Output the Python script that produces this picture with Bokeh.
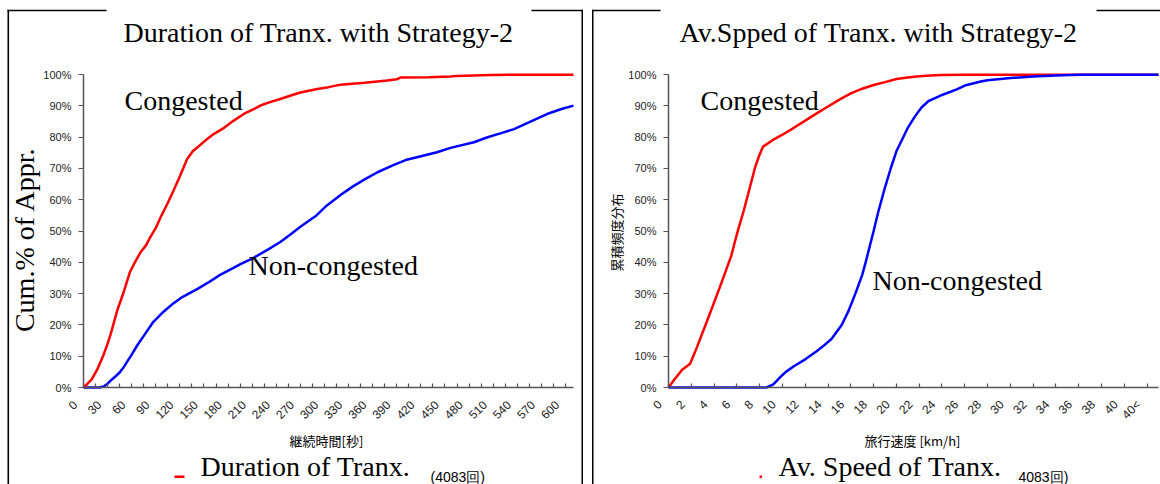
import math
from bokeh.plotting import figure
from bokeh.models import Range1d, FixedTicker, Label, BoxAnnotation, LinearAxis
from bokeh.layouts import row
from bokeh.embed import file_html
from bokeh.resources import INLINE

# ---------------- data ----------------
# Left chart: duration of transaction [s] vs cumulative %
dur_cong_x = [0, 5, 10, 17, 25, 30, 34, 42, 50, 58, 65, 71, 78, 83, 90, 96, 104, 112, 120, 129,
              136, 142, 152, 162, 175, 187, 200, 212, 222, 233, 245, 260, 270, 291, 305, 320,
              350, 378, 390, 395, 430, 457, 465, 507, 560, 610]
dur_cong_y = [0, 1.2, 2.5, 5.7, 10.5, 14, 17.2, 24.6, 30.5, 37, 40.5, 43.2, 45.5, 48, 51, 54.4,
              58.5, 62.9, 67.5, 73, 75.5, 76.8, 79, 81, 83, 85.3, 87.5, 89, 90.3, 91.3, 92.2,
              93.5, 94.3, 95.4, 96, 96.8, 97.4, 98.1, 98.5, 99.1, 99.2, 99.4, 99.6, 99.9, 100, 100]
dur_non_x = [0, 20, 25, 30, 35, 40, 45, 50, 55, 60, 67, 75, 87, 100, 110, 123, 142, 155, 170,
             185, 196, 210, 229, 245, 258, 270, 290, 303, 320, 335, 350, 366, 385, 401, 420,
             440, 457, 486, 503, 520, 536, 555, 577, 595, 610]
dur_non_y = [0, 0, 0.3, 1.2, 2.5, 3.6, 4.8, 6.5, 8.5, 10.5, 13.5, 16.5, 21, 24.3, 26.5, 28.9,
             31.5, 33.5, 36, 38, 39.5, 41.2, 44, 46.5, 49, 51.4, 55, 58.2, 61.5, 64.2, 66.5,
             68.8, 71, 72.7, 73.9, 75.2, 76.6, 78.4, 80, 81.3, 82.6, 84.8, 87.4, 89, 90.1]

# Right chart: average speed [km/h] vs cumulative %
spd_cong_x = [0, 0.5, 1.2, 1.9, 2.5, 3.4, 4.5, 5.5, 6, 6.6, 7, 7.6, 8, 8.3, 9.2, 10, 11, 12,
              13, 14, 15, 16, 17, 18, 19, 20, 21, 22, 23, 24, 26, 43]
spd_cong_y = [0, 2.5, 5.7, 7.6, 12.9, 21.4, 32, 42, 49, 56.5, 62, 70.4, 74.5, 77, 79.2, 80.8,
              83, 85.3, 87.6, 89.8, 92, 94, 95.5, 96.7, 97.6, 98.6, 99.1, 99.5, 99.7, 99.9, 100, 100]
spd_non_x = [0, 8.6, 9.2, 10, 10.3, 11, 12, 13, 13.5, 14.3, 15.2, 15.8, 16.4, 17, 17.3, 18,
             18.4, 19, 19.5, 20, 20.6, 21, 21.6, 22.2, 22.8, 23.4, 24, 25.3, 26, 27.4, 28, 30,
             32, 34, 36, 43]
spd_non_y = [0, 0, 1, 4, 5, 6.8, 9, 11.6, 13, 15.5, 20, 24.5, 30, 36, 40, 50, 56, 64, 70,
             75.5, 80, 83, 86.5, 89.5, 91.5, 92.5, 93.5, 95.3, 96.5, 97.8, 98.2, 98.9, 99.4,
             99.7, 100, 100]

pct_ticks = list(range(0, 101, 10))
pct_labels = [f"{t}%" for t in pct_ticks]
dur_ticks = list(range(0, 601, 30))
dur_minor = list(range(15, 601, 30))
dur_labels = [str(t) for t in dur_ticks]
spd_ticks = list(range(0, 43, 2))
spd_labels = [str(t) for t in range(0, 41, 2)] + ["40<"]

titles = ["Duration of Tranx. with Strategy-2", "Av.Spped of Tranx. with Strategy-2"]
series_names = ["Congested", "Non-congested"]
y_titles = ["Cum.% of Appr.", "累積頻度分布"]
x_titles = ["継続時間[秒]", "旅行速度 [km/h]"]
bottom_titles = ["Duration of Tranx.", "Av. Speed of Tranx."]
counts = ["(4083回)", "4083回)"]

RED = "#ff0000"
BLUE = "#0000ff"
SERIF = "Liberation Serif"
SANS = "Liberation Sans"
CJK = "Noto Sans CJK JP"
AXIS_COLOR = "#555555"
H = 484
PAGE_TOP = 0
PAGE_Y0 = 387          # page y of the 0 % line
KY = 316 / 101         # px per percent
LABEL_SHIFT_PX = 8.5   # rotated tick labels sit a little left of their ticks


def make_fig(width, page_left, page_x0, kx):
    # the plot frame covers the whole canvas; axes are pinned at 0
    x0 = (page_left - page_x0) / kx
    x1 = (page_left + width - page_x0) / kx
    y0 = (PAGE_Y0 - (PAGE_TOP + H)) / KY
    y1 = (PAGE_Y0 - PAGE_TOP) / KY
    p = figure(width=width, height=H, output_backend="svg", toolbar_location=None,
               x_range=Range1d(x0, x1), y_range=Range1d(y0, y1),
               min_border=0, min_border_left=0, min_border_right=0,
               min_border_top=0, min_border_bottom=0)
    d = LABEL_SHIFT_PX / kx
    p.extra_x_ranges = {"lab": Range1d(x0 + d, x1 + d)}
    p.outline_line_color = None
    p.grid.visible = False
    p.background_fill_color = "white"
    p.border_fill_color = "white"
    geom = dict(fx0=page_x0, kx=kx)
    return p, geom


def to_data(g, px, py):
    return (px - g["fx0"]) / g["kx"], (PAGE_Y0 - py) / KY


def style_axes(p, xticks, xminor, xlabels, xmax):
    ya = p.yaxis[0]
    ya.fixed_location = 0
    ya.bounds = (0, 100)
    ya.ticker = FixedTicker(ticks=pct_ticks)
    ya.major_label_overrides = dict(zip(pct_ticks, pct_labels))
    ya.major_tick_out = 5
    ya.major_tick_in = 0
    ya.minor_tick_line_color = None
    ya.major_label_standoff = 7
    ya.axis_line_color = AXIS_COLOR
    ya.axis_line_width = 1.5
    ya.major_tick_line_color = AXIS_COLOR
    ya.major_tick_line_width = 1.2
    ya.major_label_text_font = SANS
    ya.major_label_text_font_size = "11px"
    ya.major_label_text_color = "#222222"

    # axis line + tick marks
    xa = p.xaxis[0]
    xa.fixed_location = 0
    xa.bounds = (0, xmax)
    xa.ticker = FixedTicker(ticks=xticks, minor_ticks=xminor)
    xa.major_label_overrides = {t: "" for t in xticks}
    xa.major_tick_out = 0
    xa.major_tick_in = 4
    xa.minor_tick_in = 4
    xa.minor_tick_out = 0
    xa.axis_line_color = AXIS_COLOR
    xa.axis_line_width = 1.5
    xa.major_tick_line_color = AXIS_COLOR
    xa.major_tick_line_width = 1.2
    xa.minor_tick_line_color = AXIS_COLOR
    xa.minor_tick_line_width = 1.2

    # rotated tick labels (same ticks, drawn slightly to the left)
    la = LinearAxis(x_range_name="lab", fixed_location=0,
                    ticker=FixedTicker(ticks=xticks, minor_ticks=[]),
                    major_label_overrides=dict(zip(xticks, xlabels)),
                    axis_line_color=None, major_tick_line_color=None,
                    minor_tick_line_color=None, major_tick_in=0, major_tick_out=0,
                    major_label_orientation=math.pi / 4, major_label_standoff=15,
                    major_label_text_font=SANS, major_label_text_font_size="12px",
                    major_label_text_color="#222222")
    p.add_layout(la, "below")


def add_text(p, g, px, py, text, size, font=SERIF, align="left", angle=0.0, color="black"):
    # (px, py) is the visual centre line of the text in page pixels
    x, y = to_data(g, px, py)
    p.add_layout(Label(x=x, y=y, text=text, text_font=font, text_font_size=f"{size}px",
                       text_align=align, text_baseline="middle", angle=angle,
                       text_color=color))


def add_rect(p, g, px0, py0, px1, py1, color="black"):
    x0, y0 = to_data(g, px0, py0)
    x1, y1 = to_data(g, px1, py1)
    p.add_layout(BoxAnnotation(left=x0, right=x1, top=y0, bottom=y1, fill_color=color,
                               fill_alpha=1.0, line_color=None))


# ---------------- left panel ----------------
KXL = 490 / 610
pL, gL = make_fig(588, 0, 83, KXL)
style_axes(pL, dur_ticks, dur_minor, dur_labels, 610)
pL.line(dur_non_x, dur_non_y, line_color=BLUE, line_width=2.5)
pL.line(dur_cong_x, dur_cong_y, line_color=RED, line_width=2.5)

add_text(pL, gL, 318, 31.5, titles[0], 28, align="center")
add_text(pL, gL, 124, 100, series_names[0], 28)
add_text(pL, gL, 248, 265, series_names[1], 28)
add_text(pL, gL, 24, 239, y_titles[0], 28, align="center", angle=math.pi / 2)
add_text(pL, gL, 326, 440, x_titles[0], 13, font=CJK, align="center")
add_rect(pL, gL, 174, 475, 184, 477.5, color=RED)
add_text(pL, gL, 200, 466, bottom_titles[0], 28)
add_text(pL, gL, 430, 476.5, counts[0], 14, font=SANS)
# panel frame
add_rect(pL, gL, 7, 9.3, 8.6, 484)
add_rect(pL, gL, 7, 9.3, 106, 10.8)
add_rect(pL, gL, 531, 9.3, 582.5, 10.8)
add_rect(pL, gL, 581, 9.3, 582.5, 484)

# ---------------- right panel ----------------
KXR = 490 / 43
pR, gR = make_fig(572, 588, 668, KXR)
style_axes(pR, spd_ticks, [], spd_labels, 43)
pR.line(spd_cong_x, spd_cong_y, line_color=RED, line_width=2.5)
pR.line(spd_non_x, spd_non_y, line_color=BLUE, line_width=2.5)

add_text(pR, gR, 878, 31.5, titles[1], 28, align="center")
add_text(pR, gR, 700, 100, series_names[0], 28)
add_text(pR, gR, 872, 280, series_names[1], 28)
add_text(pR, gR, 616, 232, y_titles[1], 13, font=CJK, align="center", angle=math.pi / 2)
add_text(pR, gR, 912, 440, x_titles[1], 13, font=CJK, align="center")
add_rect(pR, gR, 759, 475, 761.5, 477.5, color=RED)
add_text(pR, gR, 778, 466, bottom_titles[1], 28)
add_text(pR, gR, 1018, 476.5, counts[1], 14, font=SANS)
# panel frame
add_rect(pR, gR, 591.5, 9.3, 593, 484)
add_rect(pR, gR, 591.5, 9.3, 660, 10.8)
add_rect(pR, gR, 1096, 9.3, 1160, 10.8)

layout = row(pL, pR)
open("out.html", "w").write(file_html(layout, INLINE))
